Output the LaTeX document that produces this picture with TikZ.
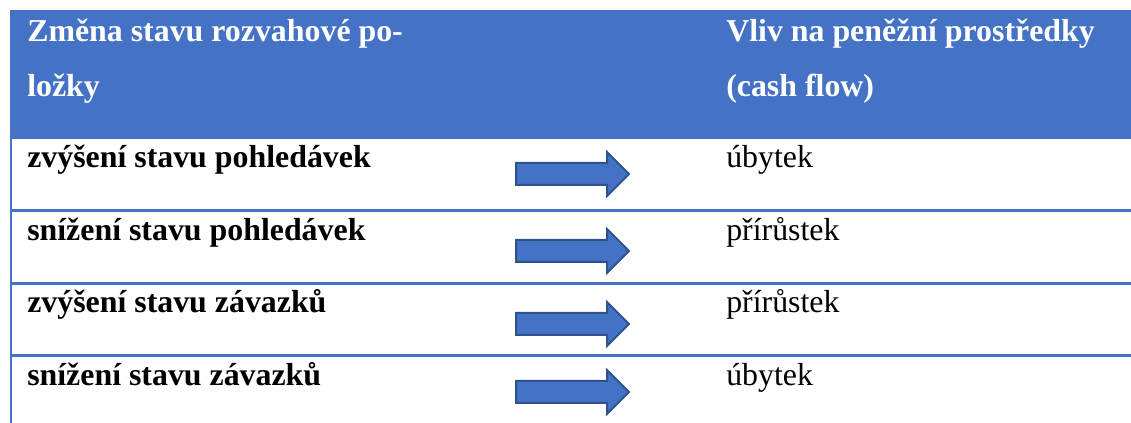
\documentclass[tikz,border=0pt]{standalone}
\usepackage{fontspec}
\setmainfont{Liberation Serif}
\begin{document}
\begin{tikzpicture}[x=0.75pt,y=0.75pt,yscale=-1,xscale=1,
  celltext/.style={anchor=base west,inner sep=0pt,font=\fontsize{23.9}{28}\selectfont},
  headtext/.style={celltext,text={rgb, 255:red, 255; green, 255; blue, 255 },font=\bfseries\fontsize{23.9}{28}\selectfont},
  rowtext/.style={celltext,font=\bfseries\fontsize{23.9}{28}\selectfont}]
\useasboundingbox (0,0) rectangle (1131,423);

%Shape: Rectangle [id:header]
\draw  [draw opacity=0][fill={rgb, 255:red, 68; green, 114; blue, 196 }  ,fill opacity=1 ]  (10,10) -- (1131,10) -- (1131,139) -- (10,139) -- cycle ;
%Straight Lines [id:leftborder]
\draw [color={rgb, 255:red, 68; green, 114; blue, 196 }  ,draw opacity=1 ][line width=1.5]   (11,139) -- (11,423) ;
%Straight Lines [id:row1]
\draw [color={rgb, 255:red, 68; green, 114; blue, 196 }  ,draw opacity=1 ][line width=2.25]   (11,211) -- (1131,211) ;
%Straight Lines [id:row2]
\draw [color={rgb, 255:red, 68; green, 114; blue, 196 }  ,draw opacity=1 ][line width=2.25]   (11,284) -- (1131,284) ;
%Straight Lines [id:row3]
\draw [color={rgb, 255:red, 68; green, 114; blue, 196 }  ,draw opacity=1 ][line width=2.25]   (11,356) -- (1131,356) ;

%Shape: Right Arrow [id:arrow1]
\draw  [color={rgb, 255:red, 47; green, 82; blue, 143 }  ,draw opacity=1 ][fill={rgb, 255:red, 68; green, 114; blue, 196 }  ,fill opacity=1 ][line width=1.5]  (516,163) -- (607,163) -- (607,152) -- (629,174) -- (607,196) -- (607,185) -- (516,185) -- cycle ;
%Shape: Right Arrow [id:arrow2]
\draw  [color={rgb, 255:red, 47; green, 82; blue, 143 }  ,draw opacity=1 ][fill={rgb, 255:red, 68; green, 114; blue, 196 }  ,fill opacity=1 ][line width=1.5]  (516,240) -- (607,240) -- (607,229) -- (629,251) -- (607,273) -- (607,262) -- (516,262) -- cycle ;
%Shape: Right Arrow [id:arrow3]
\draw  [color={rgb, 255:red, 47; green, 82; blue, 143 }  ,draw opacity=1 ][fill={rgb, 255:red, 68; green, 114; blue, 196 }  ,fill opacity=1 ][line width=1.5]  (516,313) -- (607,313) -- (607,302) -- (629,324) -- (607,346) -- (607,335) -- (516,335) -- cycle ;
%Shape: Right Arrow [id:arrow4]
\draw  [color={rgb, 255:red, 47; green, 82; blue, 143 }  ,draw opacity=1 ][fill={rgb, 255:red, 68; green, 114; blue, 196 }  ,fill opacity=1 ][line width=1.5]  (516,381) -- (607,381) -- (607,370) -- (629,392) -- (607,414) -- (607,403) -- (516,403) -- cycle ;

% Text Node
\node [headtext] (headleftA) at (27,42) {Změna stavu rozvahové po-};
% Text Node
\node [headtext] (headleftB) at (27,97) {ložky};
% Text Node
\node [headtext] (headrightA) at (726,42) {Vliv na peněžní prostředky};
% Text Node
\node [headtext] (headrightB) at (726,97) {(cash flow)};

% Text Node
\node [rowtext] (itemA) at (27,168) {zvýšení stavu pohledávek};
% Text Node
\node [celltext] (effectA) at (726,168) {úbytek};
% Text Node
\node [rowtext] (itemB) at (27,241) {snížení stavu pohledávek};
% Text Node
\node [celltext] (effectB) at (726,241) {přírůstek};
% Text Node
\node [rowtext] (itemC) at (27,313) {zvýšení stavu závazků};
% Text Node
\node [celltext] (effectC) at (726,313) {přírůstek};
% Text Node
\node [rowtext] (itemD) at (27,386) {snížení stavu závazků};
% Text Node
\node [celltext] (effectD) at (726,386) {úbytek};
\end{tikzpicture}
\end{document}
